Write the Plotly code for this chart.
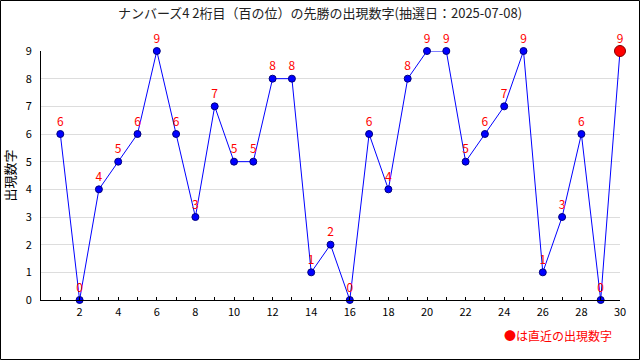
import plotly.graph_objects as go

draws = list(range(1, 31))
digits = [6, 0, 4, 5, 6, 9, 6, 3, 7, 5, 5, 8, 8, 1, 2, 0, 6, 4, 8, 9, 9, 5, 6, 7, 9, 1, 3, 6, 0, 9]
title_text = "ナンバーズ4 2桁目（百の位）の先勝の出現数字(抽選日：2025-07-08)"
y_title = "出現数字"
note_text = "●は直近の出現数字"

FONT = "Noto Sans CJK JP, DejaVu Sans, sans-serif"
L, R, T, B = 41, 20, 51, 60
PW, PH = 640 - L - R, 360 - T - B

fig = go.Figure()
fig.add_trace(go.Scatter(
    x=draws, y=digits, mode="lines+markers+text",
    line=dict(color="#0000ff", width=1),
    marker=dict(color="#0000ff", size=7, line=dict(color="#000080", width=1)),
    text=[str(v) for v in digits], textposition="top center",
    textfont=dict(color="#ff0000", size=12, family=FONT),
    cliponaxis=False, showlegend=False, hoverinfo="skip",
))
fig.add_trace(go.Scatter(
    x=[draws[-1]], y=[digits[-1]], mode="markers",
    marker=dict(color="#ff0000", size=11, line=dict(color="#800000", width=1)),
    cliponaxis=False, showlegend=False, hoverinfo="skip",
))

fig.update_layout(
    width=640, height=360,
    margin=dict(l=L, r=R, t=T, b=B, autoexpand=False),
    paper_bgcolor="white", plot_bgcolor="white",
    font=dict(family=FONT, size=11, color="#000000"),
    title=dict(text=title_text, x=0.5, xanchor="center", y=1 - 13 / 360, yanchor="middle",
               font=dict(size=13, family=FONT, color="#222222")),
    xaxis=dict(range=[0, 30], tickmode="array", tickvals=list(range(2, 31, 2)),
               showgrid=False, showline=True, linecolor="black", linewidth=1,
               ticks="inside", ticklen=3, tickcolor="black",
               minor=dict(dtick=1, ticks="inside", ticklen=3, tickcolor="black", showgrid=False),
               tickfont=dict(size=11), zeroline=False, automargin=False, ticklabelstandoff=2),
    yaxis=dict(range=[0, 9], dtick=1, showgrid=True, gridcolor="#dddddd",
               showline=True, linecolor="black", linewidth=1,
               ticks="", tickfont=dict(size=11), zeroline=False, automargin=False,
               ticklabelstandoff=6,
               title=dict(text=y_title, font=dict(size=13), standoff=10)),
    shapes=[dict(type="rect", xref="paper", yref="paper",
                 x0=(0.5 - L) / PW, x1=(639.5 - L) / PW,
                 y0=(300 - 359.5) / PH, y1=(300 - 0.5) / PH,
                 line=dict(color="black", width=1))],
    annotations=[dict(text=note_text, xref="paper", yref="paper", x=(614 - L) / PW,
                      y=-(335 - 300) / PH, xanchor="right", yanchor="middle",
                      showarrow=False, font=dict(color="#ff0000", size=12, family=FONT))],
)

fig.write_html("out.html", config={"displayModeBar": False},
               post_script="document.body.style.margin='0px';")
